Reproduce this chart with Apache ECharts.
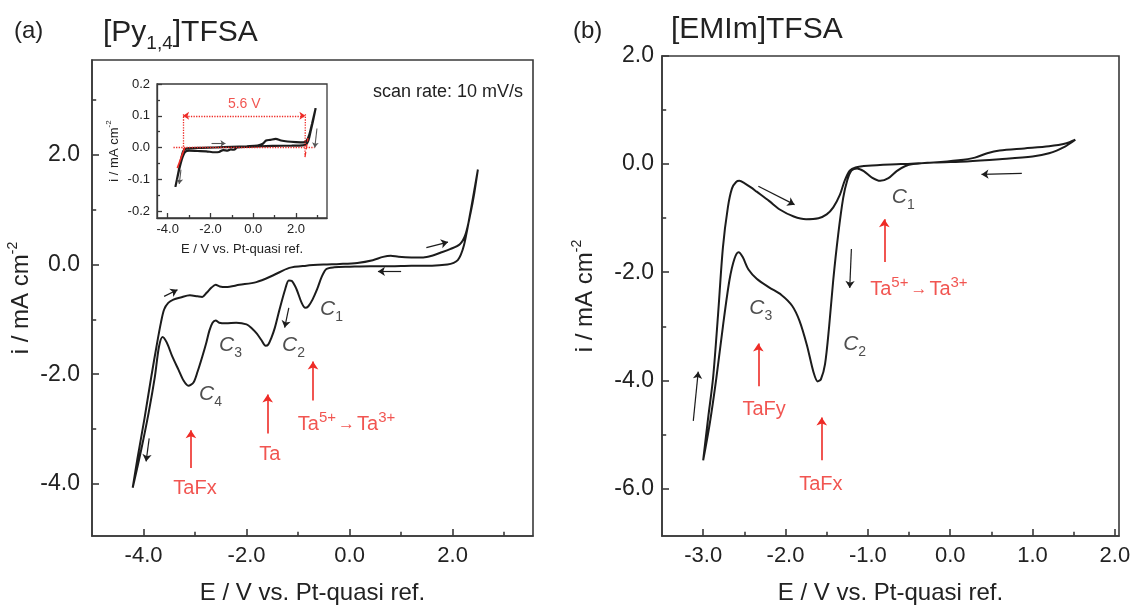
<!DOCTYPE html>
<html>
<head>
<meta charset="utf-8">
<title>CV of Ta in [Py1,4]TFSA and [EMIm]TFSA</title>
<script src="https://cdn.jsdelivr.net/npm/echarts@6/dist/echarts.min.js"></script>
<style>
  html, body { margin: 0; padding: 0; background: #fff; }
  #chart { width: 1135px; height: 613px; }
</style>
</head>
<body>
<div id="chart"></div>
<script>
// ---------- data (E / V, i / mA cm-2) ----------
// (a) [Py1,4]TFSA, cathodic scan from +2.5 V then anodic back
const cvPy = [
  [2.49,1.73],[2.42,1.35],[2.35,0.98],[2.28,0.62],[2.22,0.35],[2.16,0.18],[2.10,0.08],[2.02,0.03],
  [1.9,0.0],[1.6,-0.02],[1.2,-0.02],[0.8,-0.03],[0.4,-0.03],[0.0,-0.04],[-0.3,-0.05],[-0.45,-0.08],
  [-0.54,-0.22],[-0.63,-0.45],[-0.72,-0.64],[-0.80,-0.76],[-0.86,-0.79],[-0.93,-0.70],[-1.03,-0.45],
  [-1.12,-0.30],[-1.18,-0.29],[-1.25,-0.45],[-1.36,-0.82],[-1.45,-1.15],[-1.52,-1.34],[-1.58,-1.46],
  [-1.63,-1.48],[-1.71,-1.38],[-1.80,-1.26],[-1.90,-1.16],[-2.0,-1.09],[-2.2,-1.06],[-2.4,-1.07],
  [-2.53,-1.06],[-2.60,-1.02],[-2.66,-1.06],[-2.72,-1.20],[-2.78,-1.42],[-2.86,-1.68],[-2.95,-1.95],
  [-3.03,-2.15],[-3.13,-2.21],[-3.22,-2.12],[-3.32,-1.92],[-3.44,-1.68],[-3.55,-1.42],[-3.63,-1.32],
  [-3.70,-1.50],[-3.78,-2.05],[-3.90,-2.70],[-4.05,-3.40],[-4.21,-4.07],
  [-4.12,-3.55],[-3.98,-2.80],[-3.85,-2.05],[-3.74,-1.45],[-3.66,-1.05],[-3.60,-0.82],[-3.52,-0.70],
  [-3.42,-0.64],[-3.28,-0.60],[-3.10,-0.56],[-2.95,-0.58],[-2.86,-0.59],[-2.78,-0.52],[-2.68,-0.42],
  [-2.60,-0.37],[-2.52,-0.40],[-2.40,-0.41],[-2.14,-0.37],[-1.81,-0.32],[-1.49,-0.20],[-1.17,-0.06],
  [-0.84,-0.02],[-0.5,0.0],[-0.19,0.01],[0.15,0.03],[0.45,0.08],[0.65,0.14],[0.8,0.16],[0.95,0.14],
  [1.2,0.13],[1.43,0.13],[1.6,0.16],[1.75,0.21],[1.95,0.28],[2.14,0.37],[2.25,0.55],[2.35,0.95],
  [2.42,1.30],[2.49,1.73]
];
// inset: neat [Py1,4]TFSA
const cvPyNeat = [
  [2.92,0.124],[2.8,0.085],[2.68,0.05],[2.58,0.022],[2.48,0.01],[2.3,0.007],[1.8,0.006],[1.0,0.005],
  [0.4,0.004],[-0.2,0.002],[-0.75,0.0],[-0.9,-0.007],[-1.05,-0.006],[-1.2,-0.01],[-1.4,-0.008],
  [-1.6,-0.014],[-1.8,-0.015],[-2.2,-0.012],[-2.6,-0.011],[-3.0,-0.01],[-3.2,-0.015],[-3.35,-0.04],
  [-3.5,-0.08],[-3.64,-0.124],
  [-3.52,-0.085],[-3.4,-0.045],[-3.28,-0.012],[-3.15,-0.004],[-2.9,-0.002],[-2.4,-0.001],[-1.8,0.0],
  [-1.0,0.002],[-0.3,0.004],[0.2,0.006],[0.45,0.012],[0.6,0.022],[0.8,0.024],[1.05,0.027],[1.3,0.022],
  [1.6,0.019],[2.0,0.017],[2.35,0.016],[2.5,0.022],[2.62,0.04],[2.75,0.075],[2.92,0.124]
];
// (b) [EMIm]TFSA
const cvEmim = [
  [1.52,0.45],[1.4,0.33],[1.2,0.20],[1.0,0.14],[0.6,0.09],[0.2,0.05],[-0.2,0.03],[-0.45,0.0],
  [-0.55,-0.04],[-0.65,-0.13],[-0.75,-0.26],[-0.85,-0.31],[-0.95,-0.25],[-1.05,-0.13],[-1.13,-0.08],
  [-1.2,-0.12],[-1.25,-0.30],[-1.30,-0.63],[-1.36,-1.30],[-1.42,-2.14],[-1.47,-3.0],[-1.52,-3.70],
  [-1.57,-3.98],[-1.61,-4.02],[-1.66,-3.85],[-1.74,-3.35],[-1.83,-2.90],[-1.92,-2.62],[-2.05,-2.42],
  [-2.2,-2.28],[-2.35,-2.12],[-2.45,-1.95],[-2.52,-1.72],[-2.57,-1.63],[-2.62,-1.75],[-2.68,-2.14],
  [-2.76,-3.0],[-2.84,-3.96],[-2.92,-4.80],[-3.0,-5.48],
  [-2.94,-4.70],[-2.88,-3.96],[-2.82,-2.80],[-2.76,-1.54],[-2.70,-0.80],[-2.65,-0.45],[-2.60,-0.33],
  [-2.56,-0.31],[-2.50,-0.35],[-2.42,-0.43],[-2.35,-0.51],[-2.2,-0.68],[-2.07,-0.84],[-1.9,-0.97],
  [-1.75,-1.02],[-1.6,-1.0],[-1.5,-0.93],[-1.42,-0.80],[-1.34,-0.57],[-1.28,-0.30],[-1.22,-0.12],
  [-1.15,-0.06],[-1.0,-0.03],[-0.6,0.0],[-0.2,0.03],[0.1,0.07],[0.3,0.12],[0.45,0.20],[0.6,0.25],
  [0.9,0.29],[1.2,0.33],[1.4,0.38],[1.52,0.45]
];

// tick values
const pyTicksX = [-4, -2, 0, 2], pyMinorX = [-3, -1, 1, 3];
const pyTicksY = [-4, -2, 0, 2], pyMinorY = [-3, -1, 1, 3];
const neatTicksX = [-4, -2, 0, 2], neatMinorX = [-3, -1, 1, 3];
const neatTicksY = [-0.2, -0.1, 0, 0.1, 0.2], neatMinorY = [-0.15, -0.05, 0.05, 0.15];
const emTicksX = [-3, -2, -1, 0, 1, 2], emMinorX = [-2.5, -1.5, -0.5, 0.5, 1.5];
const emTicksY = [-6, -4, -2, 0, 2], emMinorY = [-5, -3, -1, 1];

// annotations in data coordinates
const scanArrowsPy = [[[-3.6,-0.58],[-3.34,-0.46]], [[-3.89,-3.17],[-3.95,-3.59]],
  [[-1.18,-0.79],[-1.26,-1.15]], [[1.49,0.31],[1.91,0.41]], [[1.0,-0.125],[0.55,-0.125]]];
const peaksPy = [['1',-0.35,-0.82],['2',-1.09,-1.47],['3',-2.31,-1.47],['4',-2.70,-2.36]];
const speciesArrowsPy = [[[-3.08,-3.71],[-3.08,-3.02]], [[-1.59,-3.08],[-1.59,-2.37]], [[-0.71,-2.48],[-0.71,-1.77]]];
const speciesPy = [['TaFx',-3.0,-4.09],['Ta',-1.55,-3.46],['redox',-0.06,-2.92]];
const neatWindow = [-3.28, 2.44];
const neatWindowText = ['5.6 V', -0.42, 0.135];
const neatScanArrows = [[[-1.95, 0.013], [-1.3, 0.013]], [[2.98, 0.06], [2.88, 0.0]], [[-3.38, -0.07], [-3.46, -0.115]]];

const scanArrowsEm = [[[-3.12,-4.75],[-3.06,-3.84]], [[-2.33,-0.41],[-1.89,-0.75]],
  [[-1.2,-1.57],[-1.22,-2.29]], [[0.87,-0.17],[0.38,-0.19]]];
const peaksEm = [['1',-0.57,-0.62],['2',-1.16,-3.33],['3',-2.30,-2.66]];
const speciesArrowsEm = [[[-0.80,-1.81],[-0.80,-1.02]], [[-2.33,-4.11],[-2.33,-3.32]], [[-1.56,-5.48],[-1.56,-4.69]]];
const speciesEm = [['redox',-0.38,-2.32],['TaFy',-2.26,-4.54],['TaFx',-1.57,-5.93]];

// ---------- chart ----------
const font = '"Liberation Sans", Arial, sans-serif';
const ink = '#1c1c1c', frame = '#3a3a3a', red = '#ee2b26';

function axisPair(grid, min, max, majors, minors, o) {
  const base = { type: 'value', gridIndex: grid, min: min, max: max, position: o.pos,
    splitLine: { show: false }, silent: true };
  const major = Object.assign({}, base, {
    axisLine: { show: true, onZero: false, lineStyle: { color: frame, width: o.lw } },
    axisTick: { show: true, inside: true, length: o.tick, customValues: majors,
      lineStyle: { color: frame, width: o.lw } },
    axisLabel: { show: true, customValues: majors, formatter: v => v.toFixed(1),
      fontSize: o.fs, color: '#222', margin: o.margin, fontFamily: font },
    name: o.name || '', nameLocation: 'middle', nameGap: o.gap || 0, nameRotate: o.rot || 0,
    nameTextStyle: { fontSize: o.nfs, color: '#222', fontFamily: font, lineHeight: o.nfs + 6,
      rich: { sup: { fontSize: Math.round(o.nfs * 0.6), verticalAlign: 'top', lineHeight: Math.round(o.nfs * 0.6), fontFamily: font, color: '#222' } } }
  });
  const minor = Object.assign({}, base, {
    axisLine: { show: false, onZero: false },
    axisTick: { show: true, inside: true, length: o.tick * 0.6, customValues: minors,
      lineStyle: { color: frame, width: o.lw } },
    axisLabel: { show: false }
  });
  return [major, minor];
}

const xAxes = [].concat(
  axisPair(0, -5, 3.56, pyTicksX, pyMinorX, { pos: 'bottom', lw: 1.6, tick: 7, fs: 22, margin: 9,
    name: 'E / V vs. Pt-quasi ref.', gap: 42, nfs: 24 }),
  axisPair(1, -4.5, 3.45, neatTicksX, neatMinorX, { pos: 'bottom', lw: 1.3, tick: 5, fs: 13, margin: 5,
    name: 'E / V vs. Pt-quasi ref.', gap: 22, nfs: 13 }),
  axisPair(2, -3.5, 2.05, emTicksX, emMinorX, { pos: 'bottom', lw: 1.6, tick: 7, fs: 22, margin: 9,
    name: 'E / V vs. Pt-quasi ref.', gap: 42, nfs: 24 })
);
const yAxes = [].concat(
  axisPair(0, -4.95, 3.73, pyTicksY, pyMinorY, { pos: 'left', lw: 1.6, tick: 7, fs: 23, margin: 12,
    name: 'i / mA cm{sup|-2}', gap: 43, rot: 90, nfs: 24 }),
  axisPair(1, -0.222, 0.2, neatTicksY, neatMinorY, { pos: 'left', lw: 1.3, tick: 5, fs: 13, margin: 7,
    name: 'i / mA cm{sup|-2}', gap: 31, rot: 90, nfs: 13 }),
  axisPair(2, -6.88, 2.0, emTicksY, emMinorY, { pos: 'left', lw: 1.6, tick: 7, fs: 23, margin: 8,
    name: 'i / mA cm{sup|-2}', gap: 62, rot: 90, nfs: 24 })
);

function arrowLines(list, color, width, size) {
  return {
    silent: true, symbol: ['none', 'arrow'], symbolSize: size, animation: false,
    label: { show: false }, lineStyle: { color: color, width: width, type: 'solid' },
    emphasis: { disabled: true },
    data: list.map(a => [{ coord: a[0] }, { coord: a[1] }])
  };
}

const peakRich = {
  c: { fontSize: 21, fontStyle: 'italic', fontFamily: font, color: '#222', lineHeight: 30 },
  s: { fontSize: 14, fontFamily: font, color: '#222', verticalAlign: 'bottom', lineHeight: 14 }
};
const speciesRich = {
  t: { fontSize: 20, fontFamily: font, color: red, lineHeight: 28 },
  sup: { fontSize: 15, fontFamily: font, color: red, verticalAlign: 'top', lineHeight: 15 },
  arr: { fontSize: 17, fontFamily: font, color: red, fontWeight: 'bold', lineHeight: 28, padding: [0, 2, 0, 2] }
};
function speciesText(name) {
  if (name === 'redox') return '{t|Ta}{sup|5+}{arr|→}{t|Ta}{sup|3+}';
  return '{t|' + name + '}';
}

function peakSeries(xi, yi, list) {
  return { type: 'scatter', xAxisIndex: xi, yAxisIndex: yi, symbolSize: 0, silent: true, z: 5,
    label: { show: true, position: 'inside', rich: peakRich },
    data: list.map(p => ({ value: [p[1], p[2]], label: { formatter: '{c|C}{s|' + p[0] + '}' } })) };
}
function speciesSeries(xi, yi, list, arrows) {
  return { type: 'scatter', xAxisIndex: xi, yAxisIndex: yi, symbolSize: 0, silent: true, z: 5,
    label: { show: true, position: 'inside', rich: speciesRich },
    data: list.map(p => ({ value: [p[1], p[2]], label: { formatter: speciesText(p[0]) } })),
    markLine: arrowLines(arrows, red, 1.6, 8) };
}

const chart = echarts.init(document.getElementById('chart'), null, { renderer: 'canvas' });
chart.setOption({
  animation: false,
  backgroundColor: '#fff',
  title: [
    { text: '(a)', left: 9, top: 14, textStyle: { fontSize: 24, fontWeight: 'normal', color: '#222', fontFamily: font } },
    { text: '[Py{sub|1,4}]TFSA', left: 98, top: 8,
      textStyle: { fontSize: 30, fontWeight: 'normal', color: '#222', fontFamily: font, lineHeight: 40,
        rich: { sub: { fontSize: 19, verticalAlign: 'bottom', lineHeight: 18, color: '#222', fontFamily: font } } } },
    { text: '(b)', left: 568, top: 14, textStyle: { fontSize: 24, fontWeight: 'normal', color: '#222', fontFamily: font } },
    { text: '[EMIm]TFSA', left: 666, top: 10, textStyle: { fontSize: 30, fontWeight: 'normal', color: '#222', fontFamily: font } },
    { text: 'scan rate: 10 mV/s', left: 368, top: 78, textStyle: { fontSize: 18, fontWeight: 'normal', color: '#222', fontFamily: font } }
  ],
  grid: [
    { left: 92, top: 60, width: 441, height: 486, show: true, borderColor: frame, borderWidth: 1.6, backgroundColor: 'transparent' },
    { left: 157, top: 84, width: 170, height: 134, show: true, borderColor: frame, borderWidth: 1.3, backgroundColor: '#fff' },
    { left: 662, top: 56, width: 457, height: 486, show: true, borderColor: frame, borderWidth: 1.6, backgroundColor: 'transparent' }
  ],
  xAxis: xAxes,
  yAxis: yAxes,
  series: [
    { name: '[Py1,4]TFSA + TaF5', type: 'line', xAxisIndex: 0, yAxisIndex: 0, data: cvPy,
      smooth: 0.3, symbol: 'none', lineStyle: { color: ink, width: 2 }, z: 3,
      markLine: arrowLines(scanArrowsPy, ink, 1.2, 7) },
    peakSeries(0, 0, peaksPy),
    speciesSeries(0, 0, speciesPy, speciesArrowsPy),

    { name: 'neat [Py1,4]TFSA', type: 'line', xAxisIndex: 2, yAxisIndex: 2, data: cvPyNeat,
      smooth: 0.3, symbol: 'none', lineStyle: { color: ink, width: 2.2 }, z: 4,
      markLine: {
        silent: true, animation: false, symbol: 'none', label: { show: false }, emphasis: { disabled: true },
        lineStyle: { color: red, width: 1.3, type: 'dotted' },
        data: [
          [{ coord: [-3.73, 0] }, { coord: [2.87, 0] }],
          [{ coord: [neatWindow[0], 0.105] }, { coord: [neatWindow[0], -0.005] }],
          [{ coord: [neatWindow[1], 0.105] }, { coord: [neatWindow[1] - 0.02, -0.025] }],
          [{ coord: [neatWindow[0], 0.1], symbol: 'arrow', symbolSize: 6 },
           { coord: [neatWindow[1], 0.1], symbol: 'arrow', symbolSize: 6 }],
          [{ coord: [-3.2, 0.0], lineStyle: { type: 'solid', width: 1.6 } }, { coord: [-3.55, -0.065] }],
          [{ coord: [2.42, -0.03], lineStyle: { type: 'dashed', width: 1.3 } }, { coord: [2.56, 0.03] }]
        ]
      } },
    { type: 'scatter', xAxisIndex: 2, yAxisIndex: 2, symbolSize: 0, silent: true, z: 5,
      label: { show: true, position: 'inside', fontSize: 14, color: red, fontFamily: font, formatter: '{b}' },
      data: [{ name: neatWindowText[0], value: [neatWindowText[1], neatWindowText[2]] }],
      markLine: arrowLines(neatScanArrows, '#555', 1.1, 5) },

    { name: '[EMIm]TFSA + TaF5', type: 'line', xAxisIndex: 4, yAxisIndex: 4, data: cvEmim,
      smooth: 0.3, symbol: 'none', lineStyle: { color: ink, width: 2 }, z: 3,
      markLine: arrowLines(scanArrowsEm, ink, 1.2, 7) },
    peakSeries(4, 4, peaksEm),
    speciesSeries(4, 4, speciesEm, speciesArrowsEm)
  ]
});
</script>
</body>
</html>
